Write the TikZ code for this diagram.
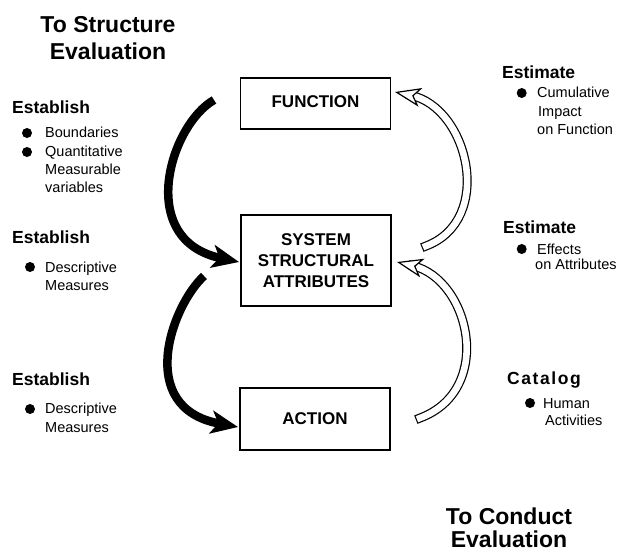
\documentclass[tikz,border=0pt]{standalone}
\usepackage{fontspec}
\setmainfont{Liberation Sans}
\usetikzlibrary{arrows.meta}
\tikzset{
  title/.style={font=\fontsize{23}{27}\selectfont\bfseries, align=center, inner sep=0pt, anchor=north},
  headtxt/.style={font=\fontsize{17.5}{20}\selectfont\bfseries, anchor=base west, inner sep=0pt},
  itemtxt/.style={font=\fontsize{14.5}{18}\selectfont, anchor=base west, inner sep=0pt},
  bul/.style={circle, fill=black, inner sep=0pt, minimum size=10pt},
  box/.style={draw, line width=1.3pt, minimum width=150pt, font=\fontsize{17}{21}\selectfont\bfseries, align=center},
  blackarrow/.style={line width=8.5pt, -{Stealth[length=27pt, width=23pt, inset=7pt]}},
  hollow/.style={double=white, double distance=6.6pt, line width=1.2pt, line cap=rect},
  hhead/.style={line width=1.2pt, -{Stealth[length=26pt, width=19pt, inset=7pt, fill=white]}}
}
\begin{document}
\begin{tikzpicture}[x=1pt,y=-1pt]
\useasboundingbox (0,0) rectangle (626,552);

% titles
\node[title] (t1) at (108,16.5) {To Structure\\Evaluation};
\node[title, font=\fontsize{23}{23.5}\selectfont\bfseries] (t2) at (509,507.5) {To Conduct\\Evaluation};

% boxes
\node[box, minimum height=51pt, text height=12.5pt, text depth=5.5pt] (fn) at (315.5,103.5) {FUNCTION};
\node[box, minimum height=91pt] (sys) at (316,260.5) {SYSTEM\\STRUCTURAL\\ATTRIBUTES};
\node[box, minimum height=62pt] (act) at (315,419) {ACTION};

% left texts
\node[headtxt] (e1) at (12,113) {Establish};
\node[bul] (b1) at (27,133) {};
\node[itemtxt] (i1) at (45,137) {Boundaries};
\node[bul] (b2) at (27,152) {};
\node[itemtxt] (i2) at (45,156) {Quantitative};
\node[itemtxt] (i3) at (45,174) {Measurable};
\node[itemtxt] (i4) at (45,192) {variables};

\node[headtxt] (e2) at (12,243) {Establish};
\node[bul] (b3) at (30,267) {};
\node[itemtxt] (i5) at (45,272) {Descriptive};
\node[itemtxt] (i6) at (45,290) {Measures};

\node[headtxt] (e3) at (12,385) {Establish};
\node[bul] (b4) at (30,409) {};
\node[itemtxt] (i7) at (45,413) {Descriptive};
\node[itemtxt] (i8) at (45,432) {Measures};

% right texts
\node[headtxt] (r1) at (502,78) {Estimate};
\node[bul] (b5) at (521.7,93) {};
\node[itemtxt] (j1) at (537,97) {Cumulative};
\node[itemtxt] (j2) at (538,116) {Impact};
\node[itemtxt] (j3) at (537,134) {on Function};

\node[headtxt] (r2) at (503,233) {Estimate};
\node[bul] (b6) at (521.7,249) {};
\node[itemtxt] (j4) at (537,254) {Effects};
\node[itemtxt] (j5) at (535,269) {on Attributes};

\node[headtxt, font=\fontsize{17.5}{20}\selectfont\bfseries\addfontfeatures{LetterSpace=9}] (r3) at (507,384) {Catalog};
\node[bul] (b7) at (530,403) {};
\node[itemtxt] (j6) at (543,408) {Human};
\node[itemtxt] (j7) at (545,425) {Activities};

% black arrows
\coordinate (a1s) at (214,100);
\coordinate (a1e) at (239,262);
\coordinate (a2s) at (204,276);
\coordinate (a2e) at (238,427);
\draw[blackarrow] (a1s) .. controls (170,125) and (135,240) .. (a1e);
\draw[blackarrow] (a2s) .. controls (172,305) and (134,408) .. (a2e);

% hollow arrows
\coordinate (h3s) at (426,246);
\coordinate (h3p) at (410.7,95.3);
\coordinate (h3e) at (395,92);
\coordinate (h4s) at (420,418);
\coordinate (h4p) at (412.6,265.7);
\coordinate (h4e) at (397,262);
\draw[hollow] (h3s) .. controls (495,220) and (468.5,107.3) .. (h3p);
\draw[hhead] (h3p) -- (h3e);
\draw[hollow] (h4s) .. controls (495,390) and (470,279.4) .. (h4p);
\draw[hhead] (h4p) -- (h4e);
\end{tikzpicture}
\end{document}
